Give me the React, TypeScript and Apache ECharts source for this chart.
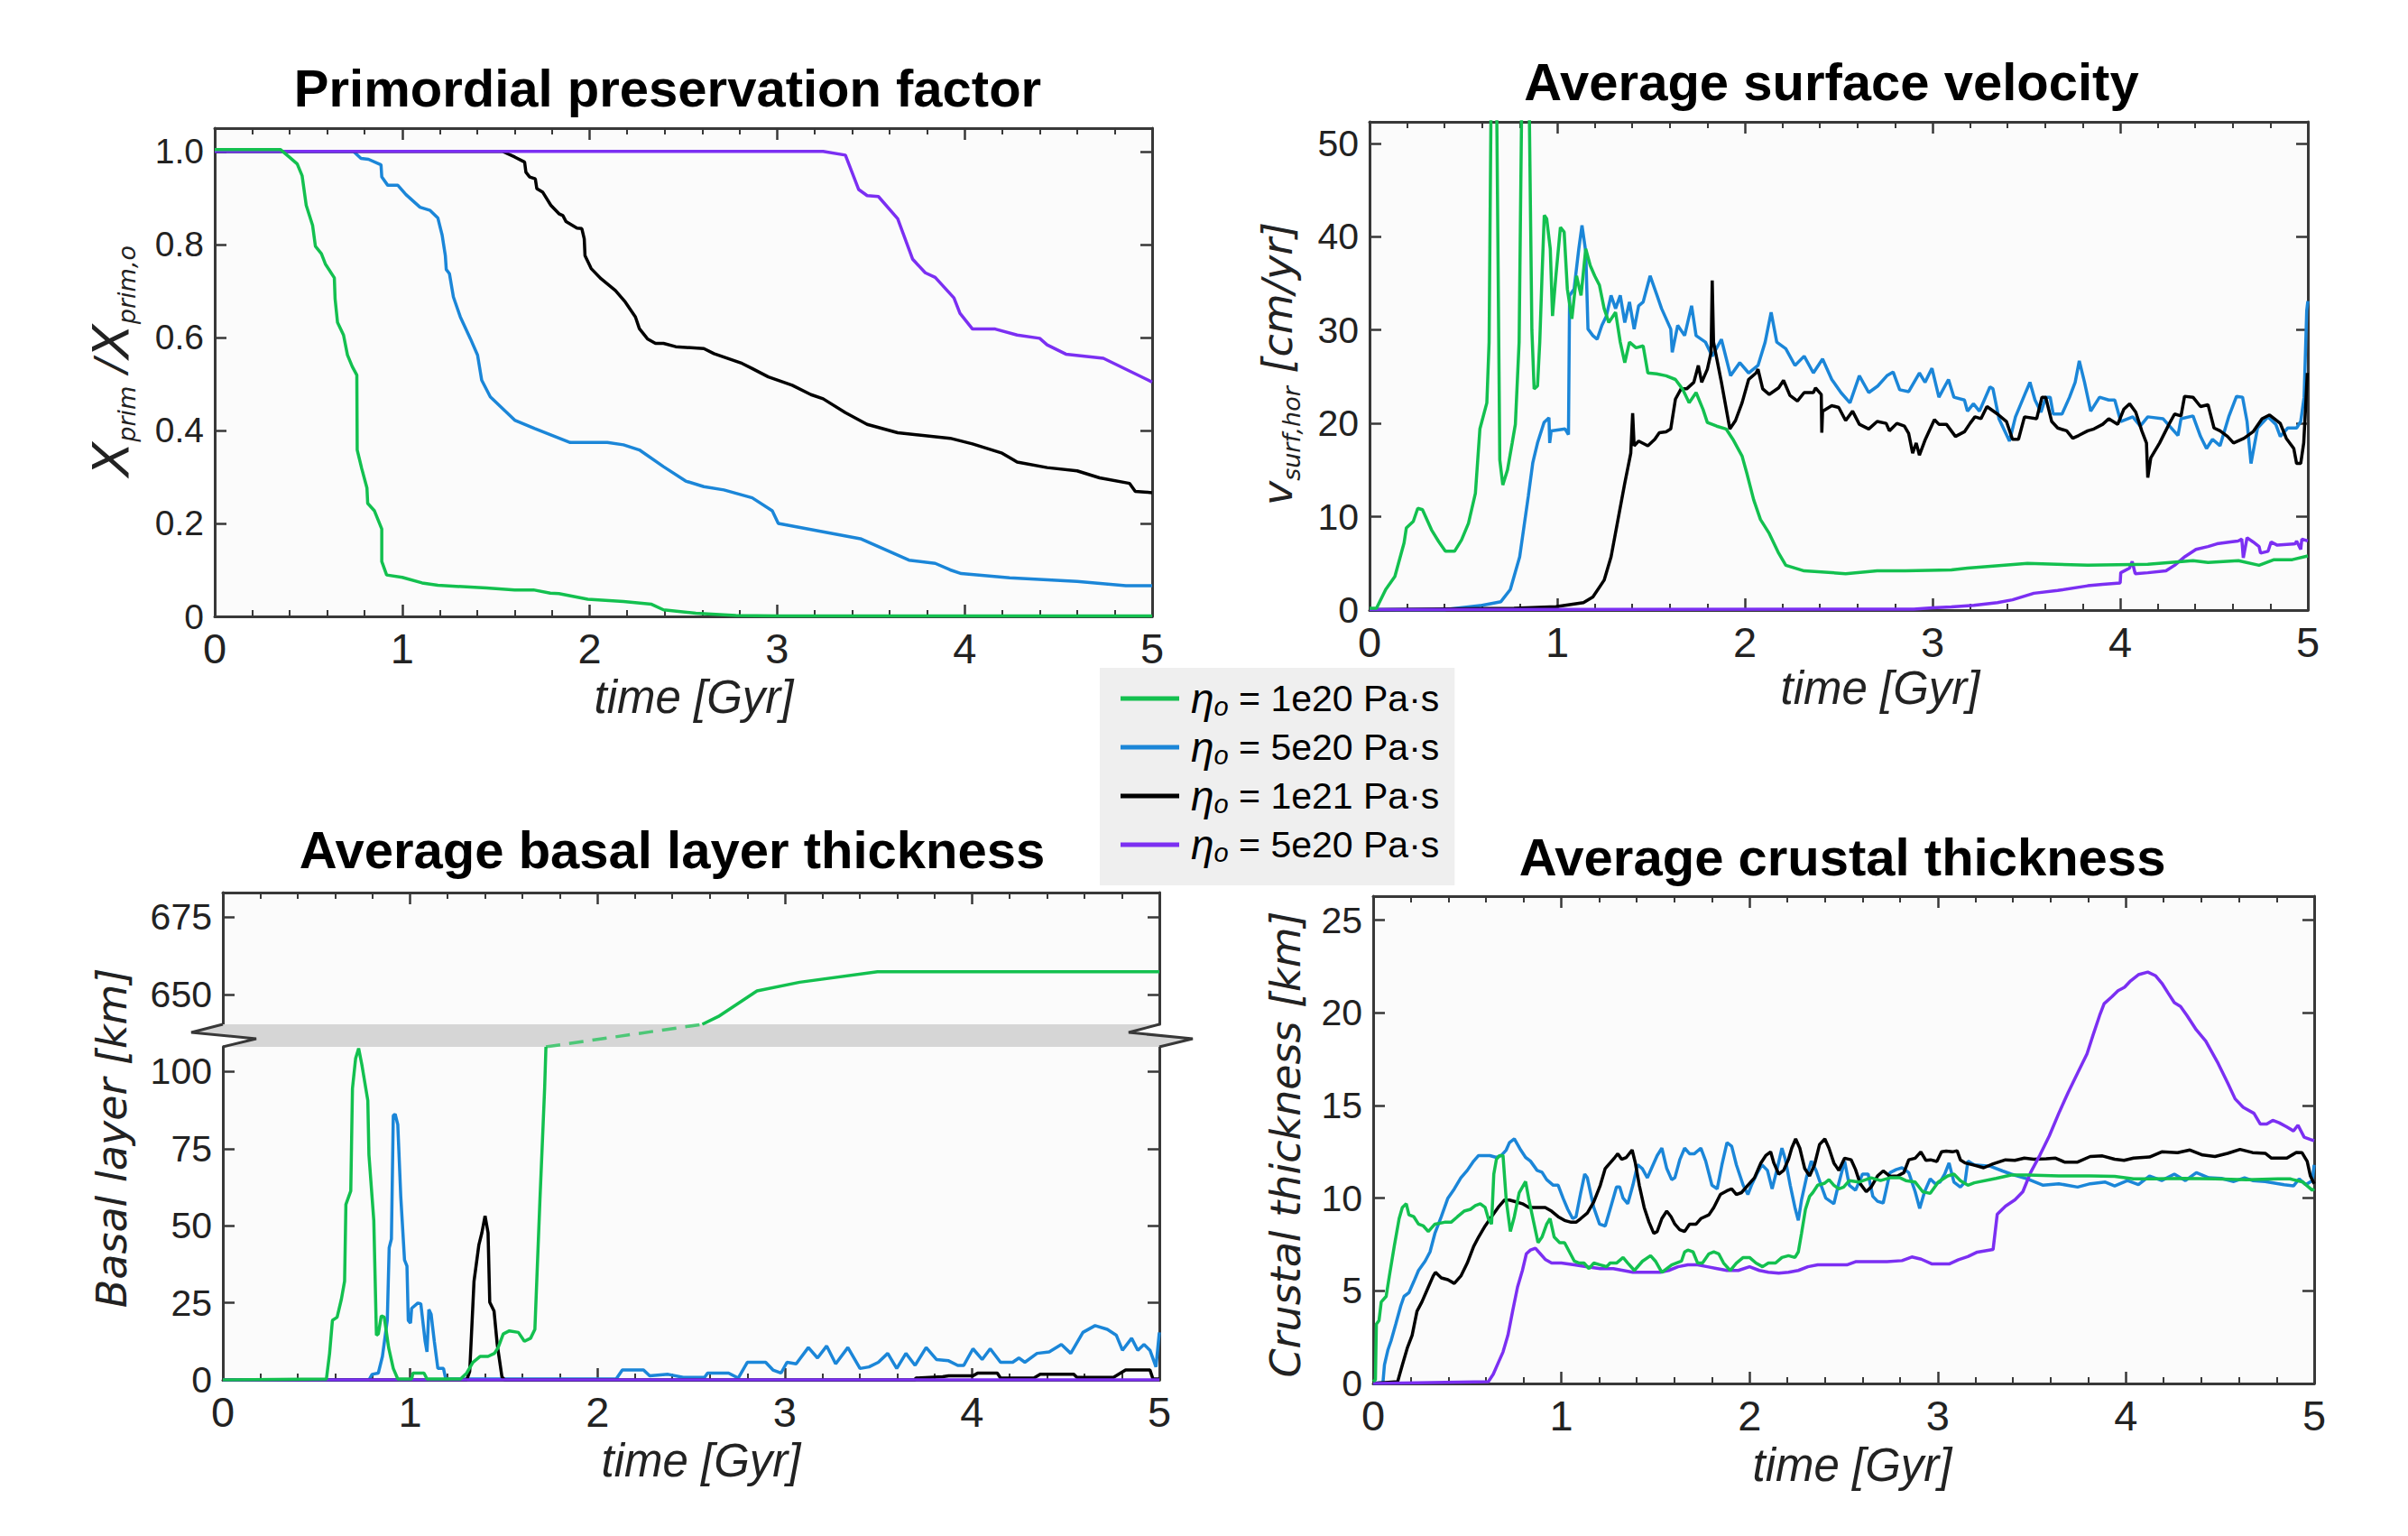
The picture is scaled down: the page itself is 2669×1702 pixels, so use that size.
import React, { useEffect, useRef } from 'react';
import * as echarts from 'echarts';

// ---------------- colours / names ----------------
const GREEN = '#13c04f';
const BLUE = '#1b86d8';
const BLACK = '#000000';
const PURPLE = '#7b2ff2';
const AXIS = '#383838';
const LABEL = '#222222';
const FONT = 'Liberation Sans';
const TITLE_FONT = 'DejaVu Sans';
const LINE_W = 3.5;

const seriesKeys = ['eta1e20', 'eta5e20', 'eta1e21', 'eta5e20b'];
const legendLabels = ['1e20 Pa·s', '5e20 Pa·s', '1e21 Pa·s', '5e20 Pa·s'];
const seriesColors = [GREEN, BLUE, BLACK, PURPLE];

const panelTitles = [
  'Primordial preservation factor',
  'Average surface velocity',
  'Average basal layer thickness',
  'Average crustal thickness',
];
const xAxisTitle = 'time [Gyr]';

// ---------------- tick values ----------------
const primTicks = [0, 0.2, 0.4, 0.6, 0.8, 1.0];
const velTicks = [0, 10, 20, 30, 40, 50];
const basalUpperTicks = [650, 675];
const basalLowerTicks = [0, 25, 50, 75, 100];
const crustTicks = [0, 5, 10, 15, 20, 25];

// ---------------- data: Primordial preservation factor ----------------
const primGreen = [[0,1.004],[0.35,1.004],[0.397,0.988],[0.44,0.973],[0.466,0.948],[0.488,0.884],[0.522,0.841],[0.537,0.796],[0.569,0.78],[0.59,0.758],[0.638,0.728],[0.642,0.683],[0.655,0.632],[0.687,0.605],[0.708,0.562],[0.734,0.537],[0.758,0.519],[0.76,0.358],[0.784,0.318],[0.812,0.276],[0.816,0.243],[0.852,0.227],[0.891,0.188],[0.891,0.118],[0.917,0.089],[1.0,0.084],[1.106,0.072],[1.19,0.067],[1.45,0.061],[1.6,0.057],[1.7,0.057],[1.79,0.05],[1.836,0.049],[1.99,0.037],[2.18,0.032],[2.33,0.026],[2.394,0.014],[2.566,0.007],[2.78,0.002],[3.0,0.001],[5.0,0.001]];
const primBlue = [[0,1.0],[0.74,1.0],[0.78,0.985],[0.82,0.983],[0.887,0.971],[0.891,0.945],[0.923,0.927],[0.977,0.927],[1.02,0.907],[1.095,0.88],[1.149,0.873],[1.19,0.857],[1.213,0.82],[1.23,0.776],[1.235,0.746],[1.252,0.737],[1.273,0.687],[1.31,0.644],[1.364,0.597],[1.402,0.562],[1.424,0.508],[1.47,0.472],[1.6,0.422],[1.707,0.404],[1.896,0.374],[2.094,0.374],[2.18,0.369],[2.265,0.358],[2.394,0.322],[2.512,0.291],[2.609,0.279],[2.716,0.272],[2.867,0.255],[2.974,0.227],[3.006,0.2],[3.444,0.167],[3.703,0.121],[3.843,0.114],[3.923,0.1],[3.982,0.092],[4.24,0.083],[4.6,0.075],[4.86,0.066],[5.0,0.066]];
const primBlack = [[0,1.0],[1.535,1.0],[1.6,0.988],[1.653,0.977],[1.66,0.955],[1.68,0.945],[1.71,0.941],[1.718,0.92],[1.75,0.912],[1.793,0.884],[1.836,0.866],[1.857,0.862],[1.874,0.849],[1.932,0.835],[1.958,0.834],[1.971,0.812],[1.975,0.776],[2.008,0.748],[2.061,0.726],[2.137,0.701],[2.19,0.676],[2.244,0.644],[2.265,0.619],[2.308,0.597],[2.351,0.587],[2.394,0.587],[2.459,0.58],[2.609,0.576],[2.663,0.565],[2.813,0.544],[2.867,0.533],[2.953,0.515],[3.08,0.497],[3.18,0.477],[3.245,0.468],[3.364,0.438],[3.48,0.413],[3.643,0.395],[3.923,0.383],[4.042,0.371],[4.2,0.351],[4.28,0.332],[4.44,0.32],[4.6,0.313],[4.72,0.298],[4.88,0.286],[4.91,0.269],[5.0,0.266]];
const primPurple = [[0,1.0],[3.245,1.0],[3.364,0.992],[3.435,0.918],[3.48,0.905],[3.54,0.903],[3.643,0.855],[3.723,0.768],[3.79,0.739],[3.843,0.729],[3.943,0.685],[3.975,0.652],[4.042,0.618],[4.163,0.618],[4.28,0.605],[4.4,0.598],[4.44,0.584],[4.54,0.564],[4.74,0.555],[5.0,0.504]];

// ---------------- data: Average surface velocity ----------------
const velGreen = [[0,0.2],[0.037,0.2],[0.086,2.2],[0.135,3.6],[0.184,7.2],[0.196,8.8],[0.233,9.5],[0.257,10.9],[0.282,10.75],[0.33,8.6],[0.368,7.35],[0.404,6.3],[0.453,6.3],[0.49,7.5],[0.527,9.3],[0.564,12.5],[0.588,19.4],[0.625,22.2],[0.637,28.7],[0.662,90],[0.694,16.1],[0.71,13.4],[0.735,15],[0.76,17.9],[0.777,19.9],[0.797,28.7],[0.83,90],[0.865,30],[0.877,23.7],[0.895,24],[0.907,28.7],[0.919,35.8],[0.931,42.3],[0.944,41.9],[0.963,38.7],[0.975,31.5],[0.993,35.8],[1.017,41.0],[1.037,40.5],[1.054,34.4],[1.078,31.2],[1.103,35.8],[1.127,33.7],[1.152,38.7],[1.176,36.9],[1.2,35.8],[1.225,34.8],[1.25,32.3],[1.275,30.8],[1.311,31.9],[1.336,28.7],[1.36,26.5],[1.385,28.7],[1.42,28.1],[1.458,28.3],[1.483,25.4],[1.53,25.3],[1.58,25.1],[1.63,24.7],[1.667,23.7],[1.703,22.2],[1.74,23.3],[1.777,21.5],[1.8,20.1],[1.85,19.7],[1.9,19.4],[1.936,18.3],[1.985,16.5],[2.01,14.7],[2.047,11.8],[2.083,9.7],[2.13,8.2],[2.18,6.1],[2.218,4.8],[2.316,4.2],[2.537,3.9],[2.705,4.2],[2.855,4.2],[3.1,4.3],[3.186,4.5],[3.506,5.0],[3.827,4.8],[4.147,4.9],[4.388,5.3],[4.468,5.1],[4.63,5.3],[4.74,4.8],[4.82,5.4],[4.917,5.4],[5.0,5.8]];
const velBlue = [[0,0.05],[0.4,0.05],[0.6,0.5],[0.7,0.9],[0.75,2.2],[0.8,5.7],[0.846,12.2],[0.87,15.8],[0.895,17.9],[0.93,20.1],[0.956,20.6],[0.96,17.9],[0.968,19.2],[1.042,19.4],[1.06,18.8],[1.066,33.7],[1.09,34.4],[1.115,38.7],[1.132,41.2],[1.152,38.4],[1.164,30.1],[1.19,29.4],[1.213,29.0],[1.238,30.5],[1.262,31.5],[1.287,33.7],[1.311,32.3],[1.336,33.7],[1.36,30.8],[1.385,33.0],[1.41,30.1],[1.434,32.6],[1.458,33.0],[1.495,35.8],[1.532,33.7],[1.556,32.3],[1.605,30.1],[1.613,27.6],[1.642,30.5],[1.679,29.4],[1.716,32.6],[1.74,29.4],[1.79,28.7],[1.826,27.2],[1.875,29.0],[1.924,25.1],[1.973,26.5],[2.02,25.4],[2.07,26.2],[2.108,28.7],[2.14,31.9],[2.17,28.7],[2.218,28.0],[2.267,26.2],[2.316,27.2],[2.365,25.4],[2.414,26.9],[2.463,24.7],[2.512,23.3],[2.56,22.2],[2.61,25.1],[2.66,23.3],[2.708,24.0],[2.757,25.1],[2.79,25.5],[2.825,23.6],[2.873,23.4],[2.93,25.4],[2.96,24.4],[2.997,25.9],[3.034,22.8],[3.085,24.7],[3.114,22.8],[3.17,22.5],[3.186,21.3],[3.218,22.1],[3.25,21.3],[3.306,23.9],[3.322,23.7],[3.354,20.5],[3.41,18.1],[3.442,20.7],[3.498,23.4],[3.519,24.4],[3.546,22.5],[3.578,21.2],[3.603,22.8],[3.627,22.8],[3.643,21.0],[3.69,21.0],[3.73,22.8],[3.76,24.4],[3.782,26.7],[3.81,24.4],[3.843,21.3],[3.89,22.8],[3.939,22.5],[3.971,22.5],[4.003,20.2],[4.067,20.7],[4.107,19.7],[4.147,20.7],[4.228,20.5],[4.308,18.7],[4.324,20.5],[4.388,20.8],[4.428,18.6],[4.46,17.3],[4.492,18.3],[4.532,17.6],[4.58,20.8],[4.62,22.9],[4.652,22.8],[4.676,20.2],[4.697,15.7],[4.732,19.5],[4.788,20.7],[4.829,19.9],[4.853,18.6],[4.893,19.5],[4.94,19.5],[4.962,20.2],[4.98,22.8],[4.994,32.1],[5.0,33.1]];
const velBlack = [[0,0.05],[0.77,0.2],[0.993,0.36],[1.14,0.8],[1.19,1.4],[1.25,3.2],[1.287,5.7],[1.324,9.7],[1.36,13.6],[1.392,16.8],[1.402,21.1],[1.41,17.6],[1.434,18.1],[1.483,17.6],[1.52,18.3],[1.544,19.0],[1.58,19.1],[1.605,19.4],[1.63,22.6],[1.66,23.7],[1.69,23.7],[1.728,24.4],[1.752,26.2],[1.77,24.4],[1.8,25.8],[1.82,27.6],[1.826,35.3],[1.833,28.7],[1.875,24.4],[1.92,19.4],[1.95,20.3],[1.985,22.2],[2.02,24.7],[2.06,25.4],[2.07,25.8],[2.095,23.7],[2.13,23.1],[2.18,23.8],[2.206,24.6],[2.24,23.0],[2.28,22.4],[2.316,23.3],[2.365,23.3],[2.377,23.8],[2.407,23.1],[2.41,19.0],[2.414,21.3],[2.463,21.9],[2.5,21.7],[2.537,20.3],[2.574,21.3],[2.61,19.9],[2.66,19.4],[2.705,20.2],[2.753,20.0],[2.77,19.2],[2.81,20.0],[2.85,19.7],[2.873,18.9],[2.894,16.8],[2.913,17.9],[2.93,16.6],[2.962,18.3],[3.01,20.4],[3.034,19.9],[3.074,19.9],[3.122,18.6],[3.17,19.1],[3.2,20.0],[3.226,20.7],[3.258,20.5],[3.29,21.8],[3.346,21.0],[3.394,20.2],[3.426,18.3],[3.458,18.3],[3.49,20.7],[3.555,20.5],[3.583,22.8],[3.603,22.8],[3.635,20.2],[3.667,19.5],[3.715,19.2],[3.747,18.4],[3.779,18.7],[3.827,19.2],[3.86,19.4],[3.907,19.9],[3.939,20.5],[3.987,19.9],[4.019,21.5],[4.05,22.1],[4.083,21.2],[4.115,19.2],[4.14,17.9],[4.147,14.2],[4.163,16.3],[4.21,17.9],[4.26,19.9],[4.29,21.0],[4.324,20.8],[4.343,22.9],[4.388,22.8],[4.428,21.8],[4.468,22.0],[4.5,19.5],[4.532,19.2],[4.572,18.6],[4.604,17.9],[4.66,18.4],[4.708,19.1],[4.756,20.5],[4.796,20.9],[4.853,20.0],[4.885,18.4],[4.925,17.3],[4.94,15.7],[4.962,15.7],[4.978,17.9],[4.99,22.5],[4.997,25.4]];
const velPurple = [[0,0.05],[2.9,0.1],[3.0,0.25],[3.1,0.35],[3.22,0.5],[3.346,0.8],[3.426,1.1],[3.54,1.8],[3.667,2.1],[3.827,2.6],[3.907,2.75],[4.0,2.9],[4.003,4.0],[4.05,4.5],[4.064,5.2],[4.08,3.9],[4.147,4.0],[4.244,4.2],[4.29,4.8],[4.34,5.65],[4.404,6.5],[4.468,6.8],[4.516,7.1],[4.588,7.3],[4.628,7.4],[4.648,7.6],[4.656,5.6],[4.676,7.75],[4.708,7.3],[4.74,6.8],[4.748,6.1],[4.788,6.3],[4.804,7.3],[4.837,6.95],[4.933,7.1],[4.94,7.4],[4.962,6.5],[4.968,7.6],[5.0,7.4]];

// ---------------- data: Average basal layer thickness ----------------
const basalGreenLower = [[0,0],[0.553,0.3],[0.57,8.6],[0.585,19.3],[0.61,20.3],[0.633,26.2],[0.65,32.0],[0.657,56.9],[0.683,61.3],[0.692,94.5],[0.709,104.3],[0.725,107.5],[0.742,102.3],[0.774,90.6],[0.78,73.0],[0.806,51.6],[0.82,14.5],[0.83,14.9],[0.846,20.8],[0.862,20.3],[0.885,10.5],[0.91,3.7],[0.934,0.3],[1.008,0.3],[1.015,2.2],[1.074,2.2],[1.09,0.3],[1.269,0.3],[1.302,2.2],[1.335,5.7],[1.373,7.6],[1.416,7.6],[1.45,8.6],[1.47,10.5],[1.497,14.9],[1.53,15.9],[1.578,15.4],[1.61,12.5],[1.643,13.5],[1.666,16.4],[1.676,32.0],[1.693,58.4],[1.71,82.8],[1.718,94.5],[1.725,108]];
const basalGreenUpper = [[2.56,640.4],[2.645,642.9],[2.852,651.2],[3.08,654.0],[3.495,657.4],[5.0,657.4]];
const basalBlue = [[0,0],[0.78,0],[0.797,1.8],[0.83,2.2],[0.852,7.6],[0.878,19.3],[0.888,42.8],[0.9,45.7],[0.91,85.7],[0.92,86.2],[0.934,82.8],[0.95,59.4],[0.97,38.9],[0.983,36.9],[0.99,19.3],[1.002,18.4],[1.008,23.2],[1.041,24.9],[1.057,24.7],[1.08,12.5],[1.09,9.1],[1.1,22.8],[1.112,21.3],[1.129,12.5],[1.148,3.7],[1.178,3.7],[1.19,0.3],[2.1,0.3],[2.133,3.2],[2.246,3.2],[2.279,1.3],[2.377,1.8],[2.458,0.8],[2.572,0.8],[2.588,2.2],[2.7,2.2],[2.752,0.6],[2.8,5.7],[2.898,5.7],[2.937,3.2],[2.98,2.2],[3.012,5.7],[3.061,5.2],[3.126,10.5],[3.175,7.1],[3.224,11.0],[3.272,5.2],[3.337,10.5],[3.402,3.7],[3.45,4.2],[3.5,5.7],[3.55,8.6],[3.598,3.7],[3.647,8.6],[3.696,4.7],[3.755,10.5],[3.81,6.6],[3.875,6.2],[3.924,4.7],[3.956,4.7],[4.005,10.1],[4.054,6.6],[4.097,10.1],[4.152,5.7],[4.217,5.7],[4.25,7.1],[4.282,5.7],[4.347,8.6],[4.412,9.1],[4.477,11.5],[4.527,8.6],[4.592,15.4],[4.657,17.6],[4.722,16.4],[4.77,14.5],[4.803,9.6],[4.852,13.5],[4.885,9.6],[4.918,11.5],[4.95,9.6],[4.982,4.2],[5.0,15.4]];
const basalBlack = [[0,0],[1.302,0],[1.318,2.7],[1.341,32.0],[1.367,43.8],[1.383,47.7],[1.4,53.2],[1.416,47.7],[1.425,25.2],[1.448,22.3],[1.465,11.5],[1.49,1.0],[1.504,0],[3.696,0],[3.7,0.6],[3.843,1.0],[3.875,1.3],[4.005,1.3],[4.03,2.2],[4.135,2.2],[4.152,0.6],[4.33,0.6],[4.364,1.8],[4.543,1.8],[4.56,0.8],[4.755,0.8],[4.82,3.2],[4.95,3.2],[4.966,0.3],[5.0,0.3]];
const basalPurple = [[0,0],[5,0]];

// ---------------- data: Average crustal thickness ----------------
const crustGreen = [[0,0.1],[0.012,0.2],[0.017,3.2],[0.031,3.4],[0.043,4.4],[0.069,4.7],[0.086,5.8],[0.112,7.4],[0.138,8.9],[0.155,9.5],[0.176,9.7],[0.19,9.1],[0.216,9.0],[0.241,8.6],[0.267,8.5],[0.293,8.2],[0.328,8.6],[0.379,8.7],[0.414,8.7],[0.448,9.0],[0.483,9.3],[0.517,9.4],[0.543,9.6],[0.569,9.7],[0.595,9.5],[0.612,8.9],[0.629,8.6],[0.641,11.3],[0.655,12.1],[0.672,12.3],[0.69,12.3],[0.707,9.9],[0.729,8.2],[0.75,9.0],[0.776,10.3],[0.81,10.9],[0.828,9.9],[0.853,8.7],[0.876,7.6],[0.897,7.9],[0.922,8.6],[0.94,8.9],[0.962,7.9],[0.991,7.6],[1.017,7.6],[1.043,7.1],[1.069,6.6],[1.095,6.5],[1.12,6.5],[1.147,6.2],[1.172,6.5],[1.207,6.4],[1.241,6.3],[1.259,6.5],[1.293,6.5],[1.328,6.8],[1.353,6.5],[1.388,6.1],[1.431,6.6],[1.474,6.9],[1.5,6.6],[1.534,6.0],[1.586,6.4],[1.638,6.6],[1.655,7.1],[1.672,7.2],[1.7,7.1],[1.724,6.5],[1.75,6.5],[1.784,7.0],[1.81,7.1],[1.836,7.0],[1.862,6.5],[1.897,6.1],[1.93,6.5],[1.966,6.8],[2.0,6.8],[2.034,6.5],[2.069,6.3],[2.1,6.5],[2.138,6.5],[2.172,6.8],[2.207,6.9],[2.241,6.8],[2.259,7.1],[2.276,8.1],[2.297,9.4],[2.319,10.1],[2.336,10.3],[2.362,10.7],[2.397,10.8],[2.422,11.0],[2.448,10.7],[2.474,10.5],[2.5,10.6],[2.53,10.95],[2.58,10.87],[2.646,11.1],[2.696,10.95],[2.746,11.1],[2.8,11.1],[2.83,10.95],[2.88,10.87],[2.92,10.35],[2.96,10.26],[3.003,10.87],[3.053,11.2],[3.086,11.3],[3.12,10.95],[3.16,10.7],[3.194,10.83],[3.31,11.07],[3.39,11.25],[3.477,11.25],[3.643,11.2],[3.81,11.2],[3.94,11.18],[4.04,11.04],[4.14,11.04],[4.307,11.07],[4.473,11.04],[4.64,11.0],[4.806,11.04],[4.872,11.04],[4.94,10.87],[4.99,10.43],[5.0,10.5]];
const crustBlue = [[0,0],[0.052,0.05],[0.06,1.0],[0.078,1.8],[0.095,2.3],[0.12,3.2],[0.147,4.2],[0.164,4.7],[0.19,4.9],[0.216,5.5],[0.241,6.1],[0.276,6.6],[0.302,7.1],[0.328,8.1],[0.362,9.0],[0.397,10.0],[0.431,10.5],[0.466,11.1],[0.5,11.5],[0.534,12.0],[0.56,12.3],[0.586,12.3],[0.62,12.3],[0.655,12.2],[0.681,12.3],[0.707,12.6],[0.724,13.0],[0.75,13.2],[0.767,12.9],[0.784,12.6],[0.81,12.2],[0.836,12.0],[0.871,11.5],[0.897,11.4],[0.922,11.0],[0.957,10.7],[0.983,10.7],[1.009,10.0],[1.034,9.4],[1.06,8.9],[1.078,9.0],[1.103,10.3],[1.124,11.3],[1.138,11.1],[1.155,10.3],[1.172,9.5],[1.203,8.6],[1.233,8.5],[1.259,9.4],[1.293,10.6],[1.31,10.6],[1.328,10.0],[1.353,9.7],[1.38,10.7],[1.405,11.8],[1.43,11.6],[1.457,11.1],[1.483,11.7],[1.509,12.3],[1.534,12.7],[1.56,11.6],[1.586,11.0],[1.603,11.1],[1.63,12.1],[1.655,12.7],[1.681,12.4],[1.707,12.4],[1.741,12.7],[1.767,12.0],[1.8,10.7],[1.828,10.5],[1.853,11.8],[1.88,13.0],[1.905,12.8],[1.93,11.8],[1.966,10.7],[1.991,10.2],[2.01,10.7],[2.038,11.3],[2.066,11.8],[2.095,11.5],[2.12,10.5],[2.147,11.6],[2.172,12.7],[2.19,12.1],[2.216,10.7],[2.241,9.5],[2.259,8.8],[2.276,9.9],[2.302,11.1],[2.328,12.0],[2.353,11.5],[2.38,10.7],[2.405,10.0],[2.448,9.7],[2.474,10.8],[2.505,12.0],[2.53,10.7],[2.563,10.43],[2.6,11.3],[2.63,11.3],[2.655,10.1],[2.68,9.83],[2.71,9.74],[2.746,11.38],[2.78,11.55],[2.81,11.64],[2.846,11.38],[2.88,10.35],[2.904,9.45],[2.93,10.35],[2.96,11.04],[2.987,10.78],[3.012,10.87],[3.037,11.3],[3.06,11.9],[3.086,10.87],[3.12,10.6],[3.145,10.87],[3.16,12.0],[3.194,11.8],[3.277,11.73],[3.344,11.47],[3.39,11.3],[3.477,11.04],[3.56,10.7],[3.643,10.78],[3.743,10.6],[3.81,10.78],[3.89,10.87],[3.94,10.66],[4.008,10.95],[4.066,10.73],[4.125,11.2],[4.19,10.95],[4.257,11.3],[4.316,10.95],[4.374,11.38],[4.44,11.1],[4.507,11.07],[4.573,10.9],[4.63,11.1],[4.673,10.95],[4.74,10.9],[4.84,10.73],[4.89,10.66],[4.92,11.04],[4.955,10.73],[4.99,10.95],[5.0,11.8]];
const crustBlack = [[0,0],[0.13,0.1],[0.155,1.0],[0.181,1.9],[0.207,2.6],[0.233,3.9],[0.259,4.4],[0.293,5.2],[0.319,5.8],[0.331,6.0],[0.362,5.7],[0.397,5.6],[0.431,5.4],[0.466,5.8],[0.5,6.5],[0.534,7.4],[0.56,7.9],[0.595,8.5],[0.629,9.0],[0.664,9.5],[0.698,9.9],[0.724,9.9],[0.759,9.8],[0.793,9.7],[0.828,9.5],[0.871,9.5],[0.914,9.5],[0.948,9.3],[0.983,9.0],[1.017,8.8],[1.052,8.7],[1.078,8.7],[1.103,8.9],[1.138,9.2],[1.172,9.8],[1.207,10.7],[1.233,11.6],[1.259,11.9],[1.284,12.2],[1.3,12.4],[1.32,12.1],[1.345,12.2],[1.376,12.6],[1.393,11.9],[1.414,10.7],[1.44,9.5],[1.466,8.7],[1.491,8.1],[1.509,8.2],[1.534,8.9],[1.56,9.3],[1.583,9.0],[1.603,8.6],[1.629,8.3],[1.655,8.2],[1.681,8.6],[1.716,8.6],[1.741,8.9],[1.784,9.1],[1.81,9.5],[1.845,10.2],[1.88,10.4],[1.905,10.5],[1.93,10.2],[1.957,10.3],[1.991,10.7],[2.026,11.1],[2.06,11.9],[2.086,12.3],[2.112,12.5],[2.129,11.9],[2.155,11.3],[2.181,11.5],[2.207,12.1],[2.224,12.7],[2.245,13.2],[2.267,12.7],[2.293,11.6],[2.319,11.2],[2.345,11.8],[2.372,12.9],[2.4,13.2],[2.422,12.7],[2.448,11.9],[2.474,11.5],[2.505,12.16],[2.54,12.07],[2.563,11.55],[2.588,10.78],[2.62,10.35],[2.646,10.6],[2.68,11.2],[2.71,11.47],[2.746,11.18],[2.787,11.2],[2.82,11.38],[2.846,12.07],[2.88,12.16],[2.91,12.5],[2.937,12.04],[2.962,12.07],[2.995,11.98],[3.02,12.5],[3.045,12.54],[3.078,12.5],[3.103,12.56],[3.12,12.07],[3.145,11.9],[3.194,11.78],[3.244,11.64],[3.294,11.85],[3.36,12.07],[3.41,12.04],[3.46,12.16],[3.51,12.1],[3.576,12.13],[3.626,12.16],[3.676,11.94],[3.743,11.95],[3.81,12.25],[3.875,12.28],[3.94,12.1],[3.99,12.04],[4.04,12.16],[4.125,12.22],[4.19,12.5],[4.274,12.46],[4.34,12.6],[4.407,12.33],[4.473,12.25],[4.54,12.42],[4.606,12.63],[4.673,12.46],[4.74,12.42],[4.773,12.16],[4.855,12.16],[4.905,12.47],[4.935,12.46],[4.963,11.99],[4.98,11.2],[5.0,10.78]];
const crustPurple = [[0,0],[0.612,0.1],[0.638,0.5],[0.664,1.1],[0.69,1.7],[0.716,2.6],[0.741,3.9],[0.767,5.2],[0.793,6.1],[0.814,7.0],[0.836,7.2],[0.862,7.3],[0.888,7.0],[0.914,6.7],[0.948,6.5],[1.0,6.5],[1.069,6.4],[1.138,6.3],[1.207,6.2],[1.276,6.2],[1.328,6.1],[1.38,6.0],[1.43,6.0],[1.483,6.0],[1.526,6.0],[1.57,6.1],[1.62,6.3],[1.672,6.4],[1.724,6.4],[1.776,6.3],[1.828,6.2],[1.88,6.1],[1.94,6.1],[2.0,6.3],[2.052,6.1],[2.1,6.0],[2.155,5.95],[2.207,6.0],[2.259,6.1],[2.31,6.3],[2.362,6.4],[2.414,6.4],[2.466,6.4],[2.517,6.4],[2.563,6.57],[2.646,6.57],[2.73,6.57],[2.81,6.63],[2.862,6.83],[2.912,6.71],[2.97,6.45],[3.06,6.45],[3.11,6.68],[3.16,6.85],[3.21,7.09],[3.294,7.23],[3.316,9.13],[3.36,9.57],[3.41,9.91],[3.452,10.35],[3.493,11.38],[3.543,12.33],[3.593,13.37],[3.643,14.58],[3.693,15.71],[3.743,16.75],[3.793,17.79],[3.826,18.83],[3.86,19.86],[3.884,20.5],[3.925,20.87],[3.958,21.2],[3.992,21.38],[4.025,21.73],[4.066,22.06],[4.116,22.2],[4.158,22.0],[4.191,21.6],[4.224,21.07],[4.257,20.55],[4.29,20.35],[4.324,19.86],[4.374,19.08],[4.424,18.48],[4.49,17.27],[4.54,16.23],[4.58,15.36],[4.623,14.9],[4.68,14.58],[4.714,14.0],[4.748,14.0],[4.78,14.2],[4.814,14.07],[4.855,13.84],[4.89,13.63],[4.914,13.94],[4.947,13.29],[4.98,13.17],[5.0,13.1]];

// ---------------- layout ----------------
const GRIDS = [
  { left: 238, top: 142, width: 1039, height: 541 },   // 0 primordial
  { left: 1518, top: 135, width: 1040, height: 541 },  // 1 velocity
  { left: 247, top: 989, width: 1038, height: 146 },   // 2 basal upper
  { left: 247, top: 1160, width: 1038, height: 369 },  // 3 basal lower
  { left: 247, top: 1135, width: 1038, height: 25 },   // 4 basal break band
  { left: 1522, top: 993, width: 1043, height: 540 },  // 5 crust
];

function xAx(gridIndex: number, position: string, showLabel: boolean, visible = true) {
  return {
    type: 'value', gridIndex, position, min: 0, max: 5, interval: 1, show: visible,
    axisLine: { show: true, onZero: false, lineStyle: { color: AXIS, width: 3 } },
    axisTick: { show: true, inside: true, length: 13, lineStyle: { color: AXIS, width: 2.5 } },
    minorTick: { show: true, splitNumber: 5, length: 7, lineStyle: { color: AXIS, width: 2 } },
    axisLabel: { show: showLabel, margin: 12, fontSize: 47, fontFamily: FONT, color: LABEL },
    splitLine: { show: false },
    minorSplitLine: { show: false },
  };
}

function yAx(gridIndex: number, position: string, min: number, max: number, ticks: number[], showLabel: boolean, fmt?: (v: number) => string, fontSize = 41) {
  return {
    type: 'value', gridIndex, position, min, max,
    axisLine: { show: true, onZero: false, lineStyle: { color: AXIS, width: 3 } },
    axisTick: { show: true, inside: true, length: 13, customValues: ticks, lineStyle: { color: AXIS, width: 2.5 } },
    axisLabel: { show: showLabel, customValues: ticks, margin: 12, fontSize, fontFamily: FONT, color: LABEL, formatter: fmt || ((v: number) => String(v)) },
    splitLine: { show: false },
  };
}

function lineSeries(k: number, data: number[][], xi: number, yi: number, extra: any = {}) {
  return {
    type: 'line', name: seriesKeys[k], data, xAxisIndex: xi, yAxisIndex: yi,
    showSymbol: false, symbol: 'none', clip: true,
    lineStyle: { color: seriesColors[k], width: LINE_W },
    itemStyle: { color: seriesColors[k] },
    ...extra,
  };
}

const subRich = {
  m: { fontSize: 46, fontStyle: 'italic', fontFamily: TITLE_FONT, lineHeight: 58, fill: '#222' },
  big: { fontSize: 56, fontStyle: 'italic', fontFamily: TITLE_FONT, lineHeight: 64, fill: '#222' },
  s: { fontSize: 27, fontStyle: 'italic', fontFamily: TITLE_FONT, lineHeight: 20, verticalAlign: 'bottom', fill: '#222' },
};

function yTitle(text: string, x: number, y: number) {
  return {
    type: 'text', x, y, rotation: Math.PI / 2, z: 20,
    style: { text, align: 'center', verticalAlign: 'middle', rich: subRich, fontSize: 46, fontStyle: 'italic', fontFamily: TITLE_FONT, fill: '#222' },
  };
}

function plainText(text: string, x: number, y: number, size: number, weight: string, style: string, color: string) {
  return {
    type: 'text', x, y, z: 20,
    style: { text, align: 'center', verticalAlign: 'middle', fontSize: size, fontWeight: weight, fontStyle: style, fontFamily: FONT, fill: color },
  };
}

// break band geometry (pixel layout of the broken axis)
const bandTop = 1135, bandBot = 1160, bandL = 247, bandR = 1285;
const zigLeft = [[bandL, bandTop], [bandL - 35, bandTop + 9], [bandL + 37, bandTop + 16], [bandL, bandBot]];
const zigRight = [[bandR, bandTop], [bandR - 34, bandTop + 9], [bandR + 37, bandTop + 16], [bandR, bandBot]];

function buildOption() {
  const xAxis = [
    xAx(0, 'bottom', true), xAx(0, 'top', false),
    xAx(1, 'bottom', true), xAx(1, 'top', false),
    xAx(2, 'top', false),
    xAx(3, 'bottom', true),
    { ...xAx(4, 'bottom', false, false) },
    xAx(5, 'bottom', true), xAx(5, 'top', false),
  ];
  const primFmt = (v: number) => (v === 0 ? '0' : v.toFixed(1));
  const yAxis = [
    yAx(0, 'left', 0, 1.05, primTicks, true, primFmt, 39), yAx(0, 'right', 0, 1.05, primTicks, false),
    yAx(1, 'left', 0, 52.3, velTicks, true), yAx(1, 'right', 0, 52.3, velTicks, false),
    yAx(2, 'left', 640.4, 683, basalUpperTicks, true), yAx(2, 'right', 640.4, 683, basalUpperTicks, false),
    yAx(3, 'left', 0, 108, basalLowerTicks, true), yAx(3, 'right', 0, 108, basalLowerTicks, false),
    { type: 'value', gridIndex: 4, min: 0, max: 1, show: false },
    yAx(5, 'left', 0, 26.3, crustTicks, true), yAx(5, 'right', 0, 26.3, crustTicks, false),
  ];

  const bridge = [
    [basalGreenLower[basalGreenLower.length - 1][0], 0],
    [basalGreenUpper[0][0], 1],
  ];

  const series = [
    // primordial
    lineSeries(1, primBlue, 0, 0), lineSeries(2, primBlack, 0, 0), lineSeries(3, primPurple, 0, 0), lineSeries(0, primGreen, 0, 0),
    // velocity
    lineSeries(1, velBlue, 2, 2), lineSeries(2, velBlack, 2, 2), lineSeries(3, velPurple, 2, 2), lineSeries(0, velGreen, 2, 2),
    // basal
    lineSeries(1, basalBlue, 5, 6), lineSeries(2, basalBlack, 5, 6), lineSeries(3, basalPurple, 5, 6), lineSeries(0, basalGreenLower, 5, 6),
    lineSeries(0, basalGreenUpper, 4, 4),
    lineSeries(0, bridge, 6, 8, { z: 5, lineStyle: { color: GREEN, width: LINE_W, type: [16, 10], opacity: 0.7 } }),
    // crust
    lineSeries(1, crustBlue, 7, 9), lineSeries(2, crustBlack, 7, 9), lineSeries(3, crustPurple, 7, 9), lineSeries(0, crustGreen, 7, 9),
  ];

  const graphic = [
    // chart titles
    plainText(panelTitles[0], 740, 97, 58, 'bold', 'normal', '#000'),
    plainText(panelTitles[1], 2030, 90, 58, 'bold', 'normal', '#000'),
    plainText(panelTitles[2], 745, 941, 58, 'bold', 'normal', '#000'),
    plainText(panelTitles[3], 2042, 949, 58, 'bold', 'normal', '#000'),
    // x axis titles
    plainText(xAxisTitle, 769, 772, 51, 'normal', 'italic', '#222'),
    plainText(xAxisTitle, 2084, 762, 51, 'normal', 'italic', '#222'),
    plainText(xAxisTitle, 777, 1618, 51, 'normal', 'italic', '#222'),
    plainText(xAxisTitle, 2053, 1623, 51, 'normal', 'italic', '#222'),
    // y axis titles
    yTitle('{big|X}{s|prim}{m| /}{big|X}{s|prim,o}', 122, 400),
    yTitle('{m|v}{s|surf,hor}{m| [cm/yr]}', 1416, 403),
    yTitle('{m|Basal layer [km]}', 124, 1261),
    yTitle('{m|Crustal thickness [km]}', 1425, 1268),
    // broken axis band
    {
      type: 'polygon', z: 1,
      shape: { points: [[bandL, bandTop], [bandR, bandTop], ...zigRight.slice(1, 3), [bandR, bandBot], [bandL, bandBot], zigLeft[2], zigLeft[1]] },
      style: { fill: '#d6d6d6' },
    },
    { type: 'polyline', z: 30, shape: { points: zigLeft }, style: { stroke: AXIS, lineWidth: 3, fill: null } },
    { type: 'polyline', z: 30, shape: { points: zigRight }, style: { stroke: AXIS, lineWidth: 3, fill: null } },
  ];

  return {
    animation: false,
    backgroundColor: '#ffffff',
    textStyle: { fontFamily: FONT },
    grid: GRIDS.map((g, i) => ({
      ...g, containLabel: false,
      show: i !== 4, backgroundColor: '#fbfbfb', borderWidth: 0,
    })),
    xAxis,
    yAxis,
    legend: {
      show: true,
      data: seriesKeys,
      orient: 'vertical',
      left: 1219, top: 740,
      padding: [11, 17, 22, 23],
      backgroundColor: '#efefef',
      itemGap: 8,
      itemWidth: 65, itemHeight: 5,
      icon: 'rect',
      selectedMode: false,
      formatter: (name: string) => `{e|η}{o|o} = ${legendLabels[seriesKeys.indexOf(name)]}`,
      textStyle: {
        fontSize: 41, fontFamily: FONT, color: '#000', lineHeight: 46, padding: [0, 0, 0, 8],
        rich: {
          e: { fontSize: 46, fontStyle: 'italic', fontFamily: FONT, color: '#000', lineHeight: 46 },
          o: { fontSize: 29, fontStyle: 'italic', fontFamily: FONT, color: '#000', lineHeight: 14, verticalAlign: 'bottom' },
        },
      },
    },
    graphic,
    series,
  };
}

export default function App() {
  const ref = useRef<HTMLDivElement>(null);
  useEffect(() => {
    document.body.style.margin = '0';
    document.body.style.overflow = 'hidden';
    const chart = echarts.init(ref.current as HTMLDivElement, null, { renderer: 'svg', width: 2669, height: 1702 });
    chart.setOption(buildOption() as any);
    return () => chart.dispose();
  }, []);
  return <div ref={ref} style={{ position: 'absolute', left: 0, top: 0, width: 2669, height: 1702, background: '#fff' }} />;
}
